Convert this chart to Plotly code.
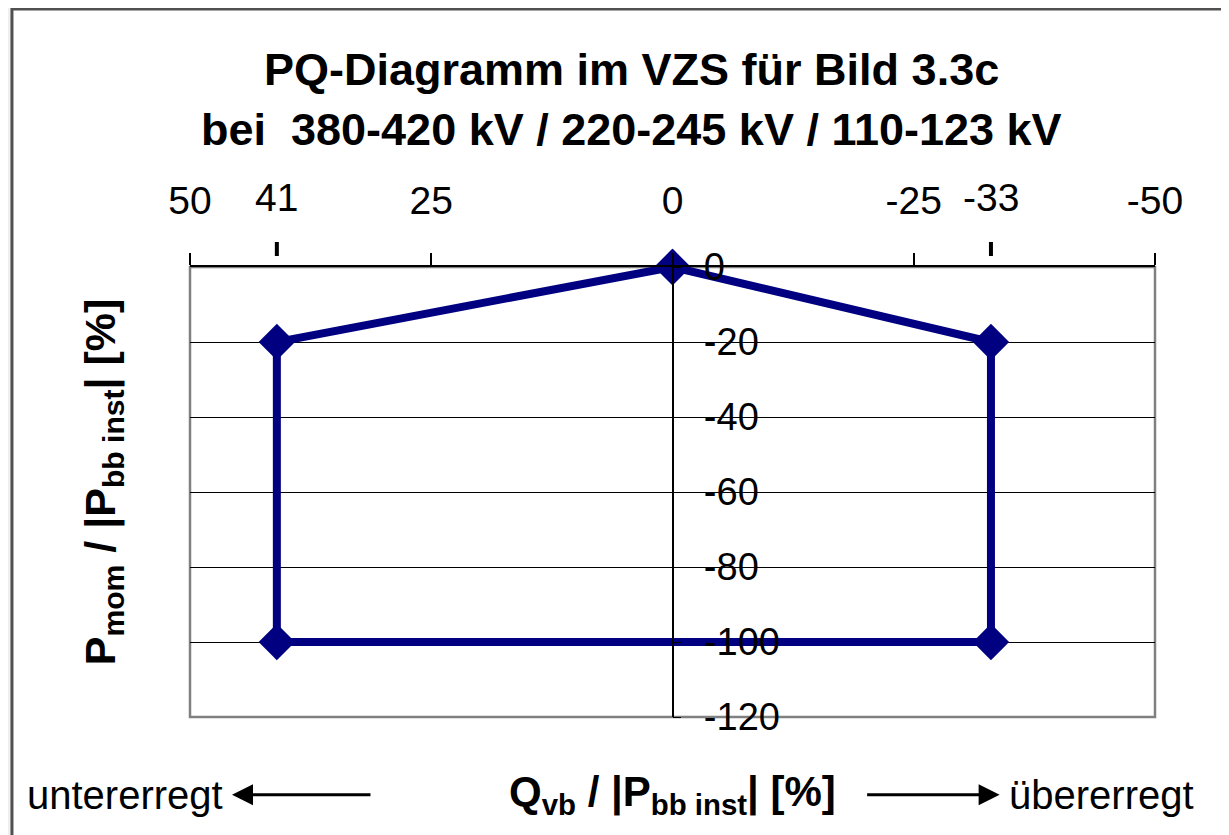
import plotly.graph_objects as go

# PQ polygon (Q in %, P in %)
q_vals = [0, -33, -33, 41, 41, 0]
p_vals = [0, -20, -100, -100, -20, 0]

x_ticks = [50, 25, 0, -25, -50]
x_ticktext = ['50', '25', '0', '-25', '-50']
y_ticks = [0, -20, -40, -60, -80, -100, -120]
y_ticktext = ['0', '-20', '-40', '-60', '-80', '-100', '-120']
special_q = [41, -33]
special_labels = ['41', '-33']

font_fam = 'Arial, Liberation Sans, sans-serif'
navy = '#000080'

fig = go.Figure()

fig.add_trace(go.Scatter(x=q_vals, y=p_vals, mode='lines+markers',
                         line=dict(color=navy, width=8),
                         marker=dict(symbol='diamond', size=28, color=navy),
                         cliponaxis=False, showlegend=False, hoverinfo='skip'))

fig.update_layout(
    width=1221, height=827,
    margin=dict(l=182, r=74, t=259, b=118, autoexpand=False),
    paper_bgcolor='#f0f0f0', plot_bgcolor='white',
    font=dict(family=font_fam, color='black', size=38),
    xaxis=dict(range=[50, -50], side='top', tickvals=x_ticks, ticktext=x_ticktext,
               ticks='outside', ticklen=12, tickwidth=1.5, tickcolor='black',
               showline=True, linecolor='black', linewidth=1.5, showgrid=False,
               zeroline=False, ticklabelstandoff=24, tickfont=dict(size=39)),
    yaxis=dict(range=[-120, 0], tickvals=y_ticks, ticktext=y_ticktext,
               anchor='free', position=0.5, side='right',
               ticks='outside', ticklen=8, tickcolor='black', showline=True,
               linecolor='black', linewidth=1.5, showgrid=True, gridcolor='black',
               gridwidth=1, zeroline=False, ticklabelstandoff=15,
               tickfont=dict(size=38)),
)

# outer frame and plot border
fig.add_shape(type='rect', xref='paper', yref='paper', x0=-0.1845, x1=1.3, y0=-0.6, y1=1.5733,
              line=dict(color='#505050', width=3), fillcolor='white', layer='below')
fig.add_shape(type='rect', xref='x domain', yref='y domain', x0=0, x1=1, y0=0, y1=1,
              line=dict(color='#808080', width=2.5), layer='below')

# detached tick marks and labels for the limits 41 / -33
for q, lab in zip(special_q, special_labels):
    fig.add_shape(type='line', xref='x', yref='paper', x0=q, x1=q, y0=1.0244, y1=1.0556,
                  line=dict(color='black', width=4))
    fig.add_annotation(xref='x', yref='paper', x=q, y=1.155, text=lab, showarrow=False,
                       xanchor='center', yanchor='middle', font=dict(size=39))

ann = [
    dict(x=0.458, y=1.438, text='<b>PQ-Diagramm im VZS für Bild 3.3c</b>', font=dict(size=45)),
    dict(x=0.458, y=1.305, text='<b>bei&nbsp; 380-420 kV / 220-245 kV / 110-123 kV</b>', font=dict(size=45)),
    dict(x=-0.09, y=0.522, text='<b>P<sub>mom</sub> / |P<sub>bb inst</sub>| [%]</b>', textangle=-90, font=dict(size=43)),
    dict(x=0.5, y=-0.173, text='<b>Q<sub>vb</sub> / |P<sub>bb inst</sub>| [%]</b>', font=dict(size=42)),
]
for a in ann:
    fig.add_annotation(xref='paper', yref='paper', showarrow=False,
                       xanchor='center', yanchor='middle', **a)
fig.add_annotation(xref='paper', yref='paper', x=-0.171, y=-0.173, text='untererregt',
                   xanchor='left', yanchor='middle', showarrow=False, font=dict(size=40))
fig.add_annotation(xref='paper', yref='paper', x=1.043, y=-0.173, text='übererregt',
                   xanchor='right', yanchor='middle', showarrow=False, font=dict(size=40))

# arrows
fig.add_annotation(xref='paper', yref='paper', x=0.0435, y=-0.173, ax=140, ay=0, text='',
                   showarrow=True, arrowhead=2, arrowsize=1.4, arrowwidth=3, arrowcolor='black')
fig.add_annotation(xref='paper', yref='paper', x=0.839, y=-0.173, ax=-134, ay=0, text='',
                   showarrow=True, arrowhead=2, arrowsize=1.4, arrowwidth=3, arrowcolor='black')

fig.write_html("out.html")
